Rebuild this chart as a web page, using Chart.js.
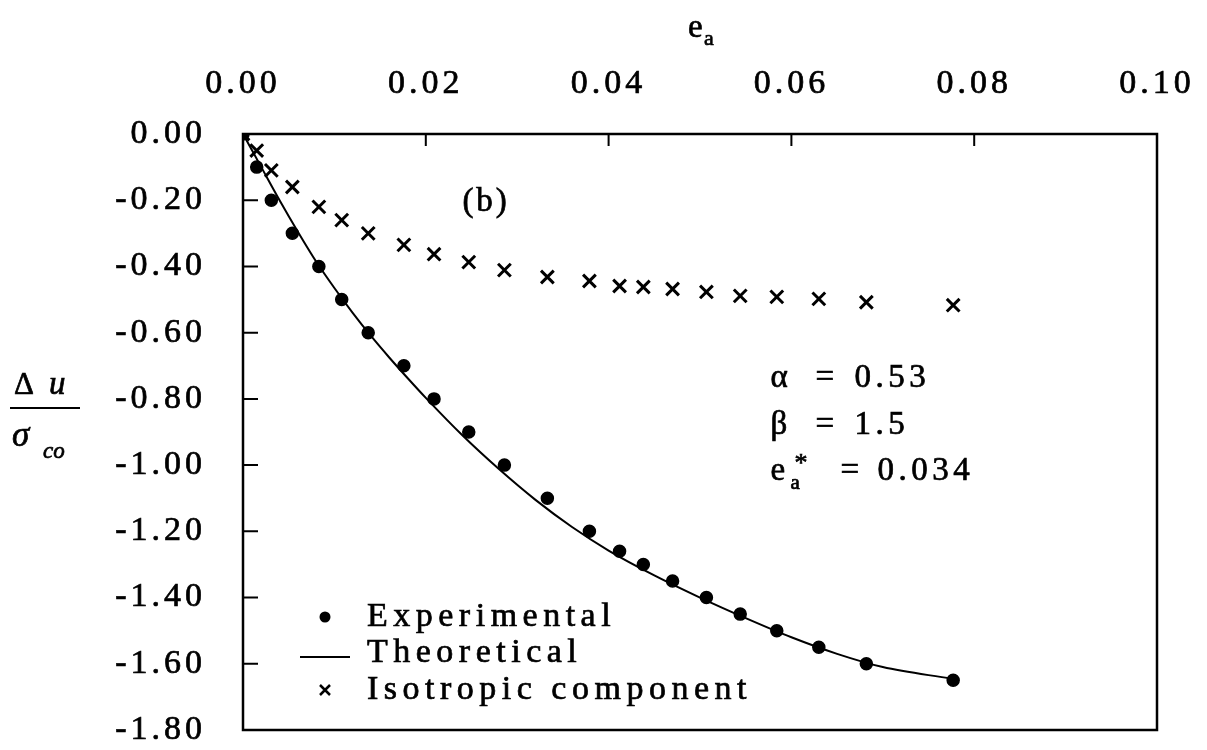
<!DOCTYPE html>
<html>
<head>
<meta charset="utf-8">
<script src="https://cdn.jsdelivr.net/npm/chart.js@4/dist/chart.umd.min.js"></script>
<style>
  html, body { margin: 0; padding: 0; background: #fff; }
  #wrap { width: 1207px; height: 750px; }
</style>
</head>
<body>
<div id="wrap"><canvas id="chart"></canvas></div>
<script>
// axial strain e_a of the measured points (experimental and isotropic share them)
const strain = [0, 0.0015, 0.0031, 0.0054, 0.0083, 0.0108, 0.0137, 0.0176, 0.0209, 0.0247, 0.0286,
  0.0333, 0.0379, 0.0412, 0.0438, 0.0470, 0.0507, 0.0544, 0.0584, 0.0630, 0.0682, 0.0777];
// normalised pore pressure change, du / sigma_co
const experimental = [0, -0.10, -0.20, -0.30, -0.40, -0.50, -0.60, -0.70, -0.80, -0.90, -1.00,
  -1.10, -1.20, -1.26, -1.30, -1.35, -1.40, -1.45, -1.50, -1.55, -1.60, -1.65];
const isotropic = [0, -0.05, -0.11, -0.16, -0.22, -0.26, -0.30, -0.335, -0.363, -0.387, -0.411,
  -0.432, -0.444, -0.459, -0.462, -0.468, -0.477, -0.489, -0.492, -0.498, -0.508, -0.517];
// theoretical curve
const theoryStrain = [0, 0.002, 0.004, 0.006, 0.008, 0.010, 0.012, 0.014, 0.016, 0.018, 0.020,
  0.024, 0.028, 0.032, 0.036, 0.040, 0.045, 0.050, 0.055, 0.060, 0.065, 0.070, 0.0775];
const theory = [0, -0.10, -0.20, -0.295, -0.385, -0.465, -0.54, -0.61, -0.675, -0.737, -0.797,
  -0.91, -1.012, -1.105, -1.187, -1.258, -1.333, -1.40, -1.462, -1.52, -1.57, -1.61, -1.645];

const xTicks = [0, 0.02, 0.04, 0.06, 0.08, 0.10];
const params = [['α', '0.53'], ['β', '1.5']];

const FONT = "'Liberation Serif', 'Times New Roman', serif";
const toXY = (xs, ys) => xs.map((v, i) => ({ x: v, y: ys[i] }));

// inward ticks, closed frame, hand-made legend and labels
const decorations = {
  id: 'decorations',
  beforeDraw(chart) {
    chart.ctx.letterSpacing = '4px';
  },
  afterDraw(chart) {
    const { ctx, chartArea: a, scales: { x, y } } = chart;
    const text = (t, tx, ty) => { ctx.fillText(t, tx, ty); ctx.strokeText(t, tx, ty); };
    ctx.save();
    ctx.strokeStyle = '#000';
    ctx.fillStyle = '#000';

    ctx.lineWidth = 2.5;
    ctx.strokeRect(a.left, a.top, a.right - a.left, a.bottom - a.top);

    ctx.lineWidth = 2;
    ctx.beginPath();
    x.ticks.forEach(t => {
      const px = x.getPixelForValue(t.value);
      ctx.moveTo(px, a.top);
      ctx.lineTo(px, a.top + 12);
    });
    y.ticks.forEach(t => {
      const py = y.getPixelForValue(t.value);
      ctx.moveTo(a.left, py);
      ctx.lineTo(a.left + 15, py);
    });
    ctx.stroke();

    ctx.textBaseline = 'middle';
    ctx.textAlign = 'left';
    ctx.letterSpacing = '0px';
    ctx.lineWidth = 0.7;

    // x axis title e_a
    ctx.font = '33px ' + FONT;
    const cx = (a.left + a.right) / 2;
    text('e', cx - 12, 28);
    ctx.font = '22px ' + FONT;
    text('a', cx + 4, 39);

    // y axis title  Δu / σco
    ctx.font = '31px ' + FONT;
    text('Δ', 14, 386);
    ctx.font = 'italic 33px ' + FONT;
    text('u', 49, 385);
    ctx.lineWidth = 2;
    ctx.beginPath();
    ctx.moveTo(10, 408);
    ctx.lineTo(80, 408);
    ctx.stroke();
    ctx.lineWidth = 0.7;
    ctx.font = 'italic 35px ' + FONT;
    text('σ', 12, 437);
    ctx.font = 'italic 23px ' + FONT;
    text('co', 43, 452);

    // panel label
    ctx.letterSpacing = '3px';
    ctx.font = '33px ' + FONT;
    ctx.textAlign = 'center';
    text('(b)', x.getPixelForValue(0.0266), y.getPixelForValue(-0.205));

    // model parameters
    ctx.textAlign = 'left';
    ctx.letterSpacing = '4.5px';
    const px0 = x.getPixelForValue(0.0577);
    const rowsY = [-0.737, -0.879, -1.02].map(v => y.getPixelForValue(v));
    ctx.font = '33px ' + FONT;
    params.forEach((p, i) => {
      text(p[0], px0, rowsY[i]);
      text('=', px0 + 45, rowsY[i]);
      text(p[1], px0 + 84, rowsY[i]);
    });
    const py3 = rowsY[2];
    text('e', px0, py3);
    ctx.font = '21px ' + FONT;
    text('a', px0 + 20, py3 + 12);
    ctx.font = '26px ' + FONT;
    text('*', px0 + 24, py3 - 8);
    ctx.font = '33px ' + FONT;
    text('=', px0 + 70, py3);
    text('0.034', px0 + 107, py3);

    // legend
    ctx.letterSpacing = '5.5px';
    const lx = a.left + 82, tx = a.left + 124;
    const rows = [a.bottom - 113, a.bottom - 77, a.bottom - 40];
    ctx.font = '34px ' + FONT;
    chart.data.datasets.forEach((ds, i) => {
      const ry = rows[i];
      if (i === 0) {
        ctx.beginPath();
        ctx.arc(lx, ry, 5.5, 0, Math.PI * 2);
        ctx.fill();
      } else if (i === 1) {
        ctx.lineWidth = 2;
        ctx.beginPath();
        ctx.moveTo(lx - 25, ry + 4);
        ctx.lineTo(lx + 25, ry + 4);
        ctx.stroke();
      } else {
        ctx.lineWidth = 2.5;
        ctx.beginPath();
        ctx.moveTo(lx - 5, ry - 5); ctx.lineTo(lx + 5, ry + 5);
        ctx.moveTo(lx + 5, ry - 5); ctx.lineTo(lx - 5, ry + 5);
        ctx.stroke();
      }
      ctx.lineWidth = 0.7;
      text(ds.label, tx, ry);
    });
    ctx.restore();
  }
};

const tickFont = { family: FONT, size: 34 };

const ctx = document.getElementById('chart').getContext('2d');
new Chart(ctx, {
  type: 'scatter',
  data: {
    datasets: [
      {
        label: 'Experimental',
        data: toXY(strain, experimental),
        pointStyle: 'circle',
        pointRadius: 6,
        pointBorderWidth: 1.5,
        backgroundColor: '#000',
        borderColor: '#000',
        showLine: false
      },
      {
        label: 'Theoretical',
        data: toXY(theoryStrain, theory),
        showLine: true,
        borderColor: '#000',
        borderWidth: 2,
        pointRadius: 0,
        cubicInterpolationMode: 'monotone'
      },
      {
        label: 'Isotropic component',
        data: toXY(strain, isotropic),
        pointStyle: 'crossRot',
        pointRadius: 9,
        pointBorderWidth: 3,
        borderColor: '#000',
        backgroundColor: '#000',
        showLine: false
      }
    ]
  },
  options: {
    responsive: true,
    maintainAspectRatio: false,
    animation: false,
    layout: { padding: { left: 0, top: 0, right: 50, bottom: 20 } },
    plugins: {
      legend: { display: false },
      tooltip: { enabled: false }
    },
    scales: {
      x: {
        type: 'linear',
        position: 'top',
        min: 0,
        max: 0.1,
        afterFit: s => { s.height = 134; s.paddingLeft = 0; s.paddingRight = 0; },
        afterBuildTicks: s => { s.ticks = xTicks.map(v => ({ value: v })); },
        grid: { display: false, drawTicks: false },
        border: { display: false },
        ticks: {
          padding: 30,
          color: '#000',
          textStrokeColor: '#000',
          textStrokeWidth: 0.7,
          font: tickFont,
          callback: v => v.toFixed(2)
        }
      },
      y: {
        type: 'linear',
        min: -1.8,
        max: 0,
        afterFit: s => { s.width = 243; s.paddingTop = 0; s.paddingBottom = 0; },
        grid: { display: false, drawTicks: false },
        border: { display: false },
        ticks: {
          stepSize: 0.2,
          padding: 37,
          color: '#000',
          textStrokeColor: '#000',
          textStrokeWidth: 0.7,
          font: tickFont,
          callback: v => v.toFixed(2)
        }
      }
    }
  },
  plugins: [decorations]
});
</script>
</body>
</html>
